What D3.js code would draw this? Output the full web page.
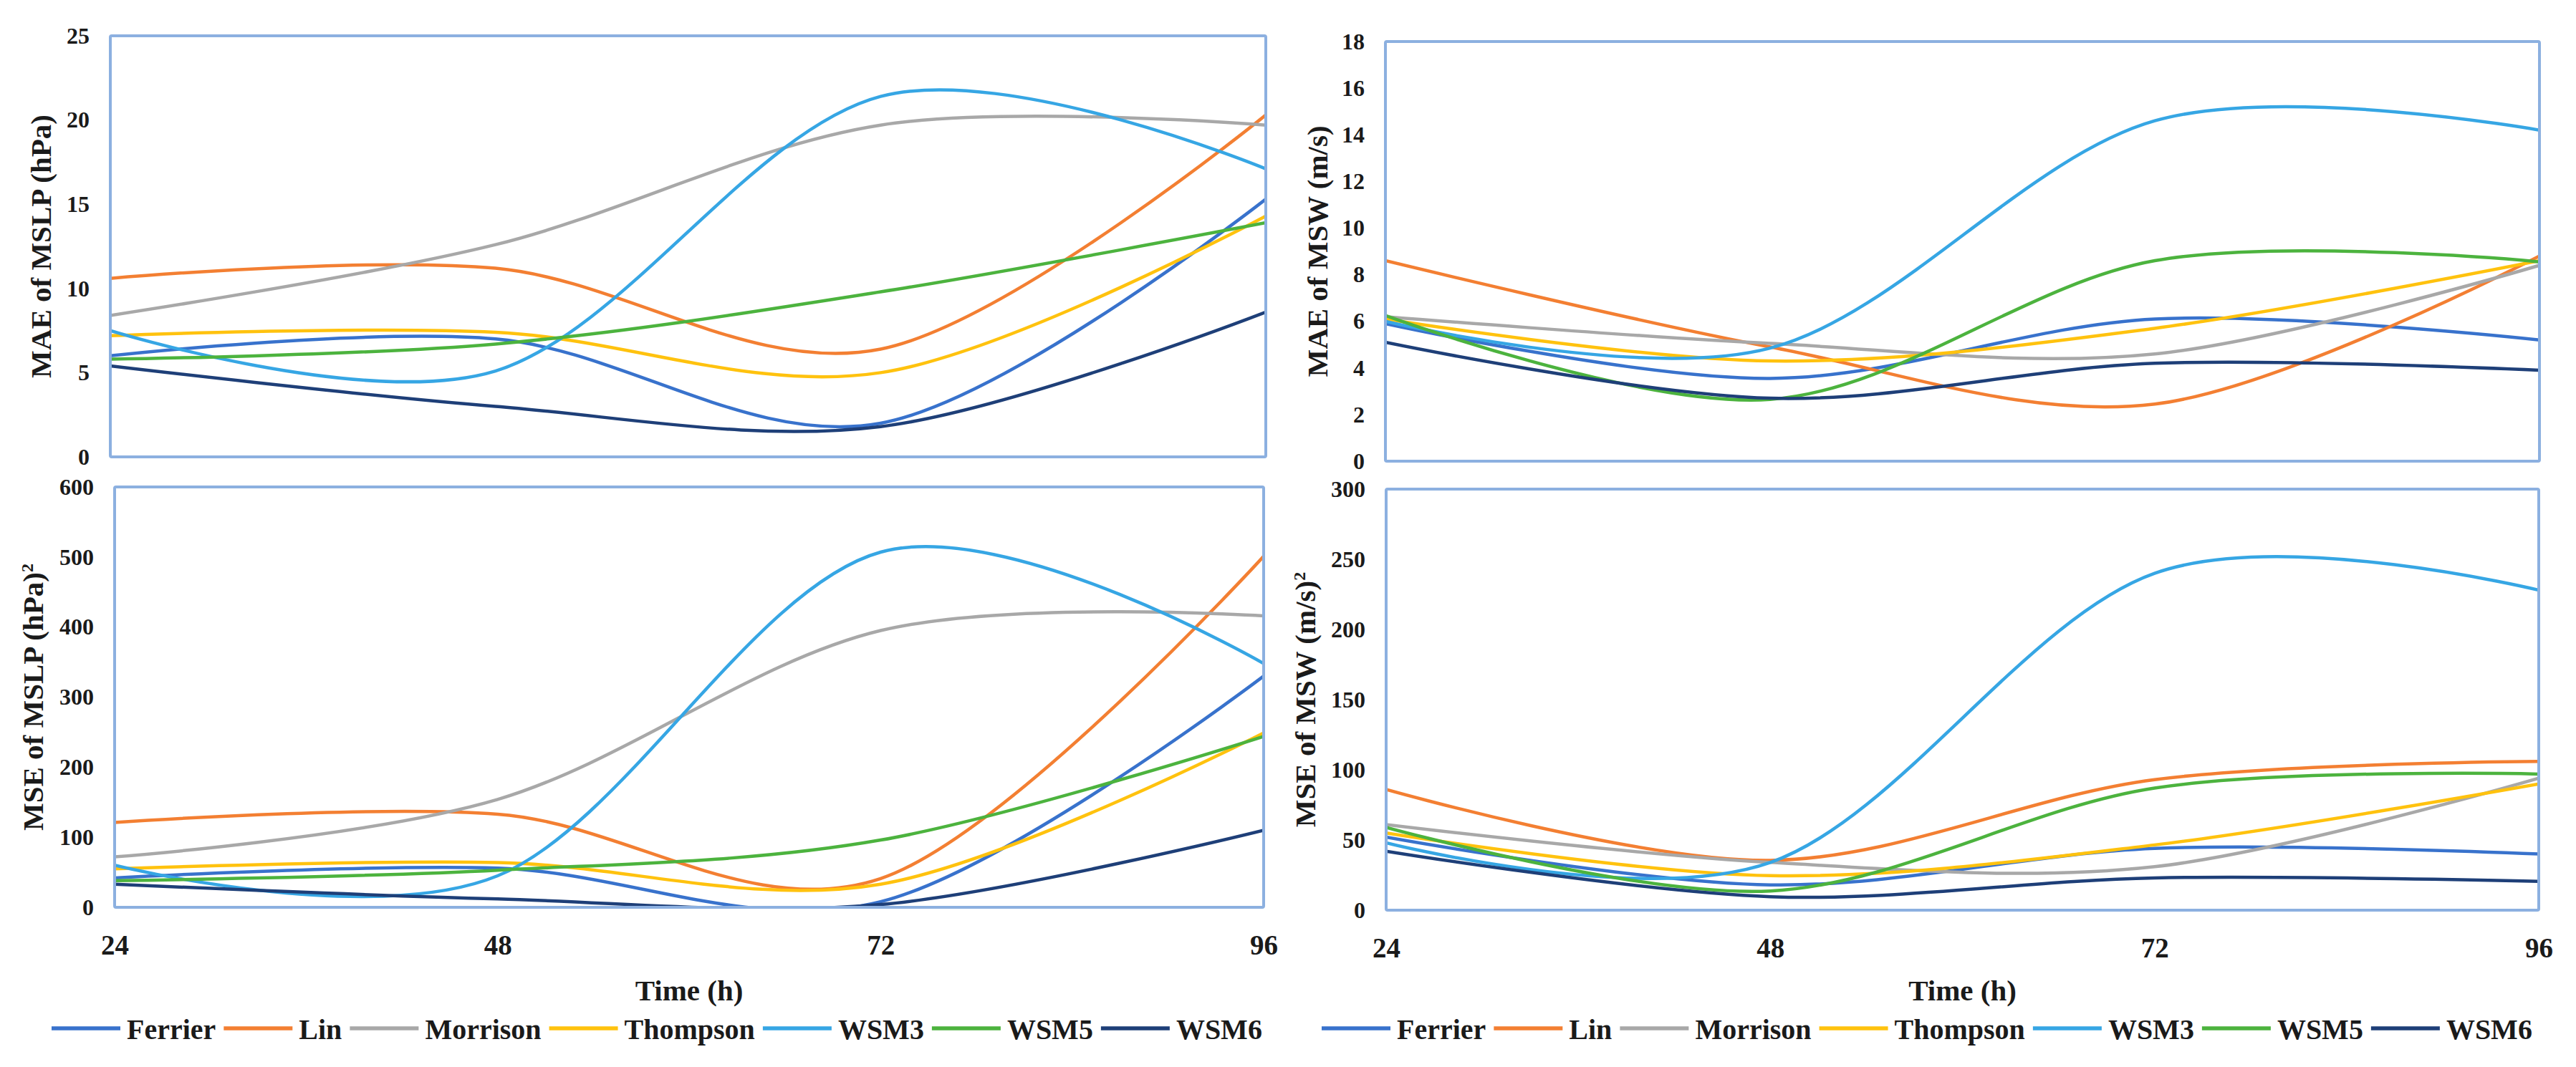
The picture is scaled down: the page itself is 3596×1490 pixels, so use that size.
<!DOCTYPE html>
<html>
<head>
<meta charset="utf-8">
<script src="https://cdn.jsdelivr.net/npm/d3@7"></script>
<style>
  body { margin: 0; background: #fff; }
  text { font-family: 'Liberation Serif', 'DejaVu Serif', serif; font-weight: bold; fill: #1a1a1a; }
</style>
</head>
<body>
<svg id="chart" width="3596" height="1490"></svg>
<script>
// forecast hours on the x axis
const hours = [24, 48, 72, 96];
const schemes = ['Ferrier', 'Lin', 'Morrison', 'Thompson', 'WSM3', 'WSM5', 'WSM6'];
const colors = ['#3872cc', '#f37f32', '#a8a8a8', '#ffc20e', '#36a6e4', '#4cb33e', '#1e3f78'];

// one row per scheme, same order as schemes
const maeMslp = [
  [6.0, 7.0, 2.0, 15.3],
  [10.6, 11.2, 6.4, 20.3],
  [8.4, 12.6, 19.7, 19.7],
  [7.2, 7.4, 5.0, 14.3],
  [7.5, 5.1, 21.4, 17.1],
  [5.8, 6.7, 9.8, 13.9],
  [5.4, 3.0, 1.8, 8.6]
];
const maeMsw = [
  [5.9, 3.55, 6.1, 5.2],
  [8.6, 4.9, 2.45, 8.8],
  [6.2, 5.05, 4.6, 8.4],
  [6.1, 4.3, 5.7, 8.6],
  [6.0, 4.85, 14.6, 14.2],
  [6.25, 2.65, 8.6, 8.55],
  [5.1, 2.7, 4.2, 3.9]
];
const mseMslp = [
  [42, 56, 8, 330],
  [121, 133, 41, 501],
  [72, 154, 395, 416],
  [55, 64, 33, 249],
  [60, 45, 507, 348],
  [38, 53, 96, 244],
  [33, 12, 4, 110]
];
const mseMsw = [
  [52, 18, 44, 40],
  [86, 35.5, 93, 106],
  [61, 34, 31, 94],
  [55, 24.6, 46.5, 90],
  [48, 34, 240, 228],
  [59, 13.7, 87, 97],
  [42, 9.6, 23, 20.5]
];

const maeMslpTicks = [0, 5, 10, 15, 20, 25];
const maeMswTicks = [0, 2, 4, 6, 8, 10, 12, 14, 16, 18];
const mseMslpTicks = [0, 100, 200, 300, 400, 500, 600];
const mseMswTicks = [0, 50, 100, 150, 200, 250, 300];

const svg = d3.select('#chart');

const panels = [
  { data: maeMslp, ticks: maeMslpTicks, title: 'MAE of MSLP (hPa)', sup: false,
    x0: 154, x1: 1767, y0: 50, y1: 638, titleX: 57, xAxis: false },
  { data: mseMslp, ticks: mseMslpTicks, title: 'MSE of MSLP (hPa)', sup: true,
    x0: 160, x1: 1764, y0: 680, y1: 1267, titleX: 46, xAxis: true },
  { data: maeMsw, ticks: maeMswTicks, title: 'MAE of MSW (m/s)', sup: false,
    x0: 1934, x1: 3545, y0: 58, y1: 644, titleX: 1839, xAxis: false },
  { data: mseMsw, ticks: mseMswTicks, title: 'MSE of MSW (m/s)', sup: true,
    x0: 1935, x1: 3544, y0: 683, y1: 1271, titleX: 1822, xAxis: true }
];

panels.forEach(function (p, i) {
  const x = d3.scaleLinear().domain([24, 96]).range([p.x0, p.x1]);
  const y = d3.scaleLinear().domain([0, d3.max(p.ticks)]).range([p.y1, p.y0]);

  // clip so smoothed lines stop at the axis like Excel does
  svg.append('clipPath').attr('id', 'clip' + i)
    .append('rect')
    .attr('x', p.x0).attr('y', p.y0)
    .attr('width', p.x1 - p.x0).attr('height', p.y1 - p.y0);

  // y axis labels
  const yAxis = svg.append('g')
    .attr('transform', 'translate(' + p.x0 + ',0)')
    .call(d3.axisLeft(y).tickValues(p.ticks).tickSize(0).tickPadding(29));
  yAxis.select('.domain').remove();
  yAxis.selectAll('text')
    .style('font-family', "'Liberation Serif', serif")
    .style('font-weight', 'bold')
    .style('font-size', '32px')
    .attr('fill', '#222');

  // series
  const line = d3.line()
    .x(function (d, j) { return x(hours[j]); })
    .y(function (d) { return y(d); })
    .curve(d3.curveCardinal.tension(0));

  svg.append('g')
    .attr('clip-path', 'url(#clip' + i + ')')
    .selectAll('path')
    .data(p.data)
    .enter()
    .append('path')
    .attr('d', line)
    .attr('fill', 'none')
    .attr('stroke', function (d, j) { return colors[j]; })
    .attr('stroke-width', 4.5)
    .attr('stroke-linecap', 'round');

  // plot frame
  svg.append('rect')
    .attr('x', p.x0).attr('y', p.y0)
    .attr('width', p.x1 - p.x0).attr('height', p.y1 - p.y0)
    .attr('fill', 'none')
    .attr('stroke', '#8cb0e0')
    .attr('stroke-width', 4)
    .attr('rx', 2);

  // y title
  const t = svg.append('text')
    .attr('transform', 'translate(' + p.titleX + ',' + (p.y0 + p.y1) / 2 + ') rotate(-90)')
    .attr('text-anchor', 'middle')
    .attr('dy', '0.35em')
    .style('font-size', '41px')
    .text(p.title);
  if (p.sup) {
    t.append('tspan').attr('dy', '-0.6em').style('font-size', '24px').text('2');
  }

  if (p.xAxis) {
    const xAxis = svg.append('g')
      .attr('transform', 'translate(0,' + p.y1 + ')')
      .call(d3.axisBottom(x).tickValues(hours).tickSize(0).tickPadding(38));
    xAxis.select('.domain').remove();
    xAxis.selectAll('text')
      .style('font-family', "'Liberation Serif', serif")
      .style('font-weight', 'bold')
      .style('font-size', '39px')
      .attr('fill', '#1a1a1a');

    svg.append('text')
      .attr('x', (p.x0 + p.x1) / 2)
      .attr('y', 1397)
      .attr('text-anchor', 'middle')
      .style('font-size', '41px')
      .text('Time (h)');
  }
});

// legends under each column
[72, 1845].forEach(function (startX) {
  let cx = startX;
  const g = svg.append('g');
  schemes.forEach(function (name, j) {
    g.append('line')
      .attr('x1', cx).attr('x2', cx + 96)
      .attr('y1', 1436).attr('y2', 1436)
      .attr('stroke', colors[j])
      .attr('stroke-width', 5.5);
    const label = g.append('text')
      .attr('x', cx + 105)
      .attr('y', 1451)
      .style('font-size', '40px')
      .text(name);
    cx = cx + 105 + label.node().getComputedTextLength() + 11;
  });
});
</script>
</body>
</html>
